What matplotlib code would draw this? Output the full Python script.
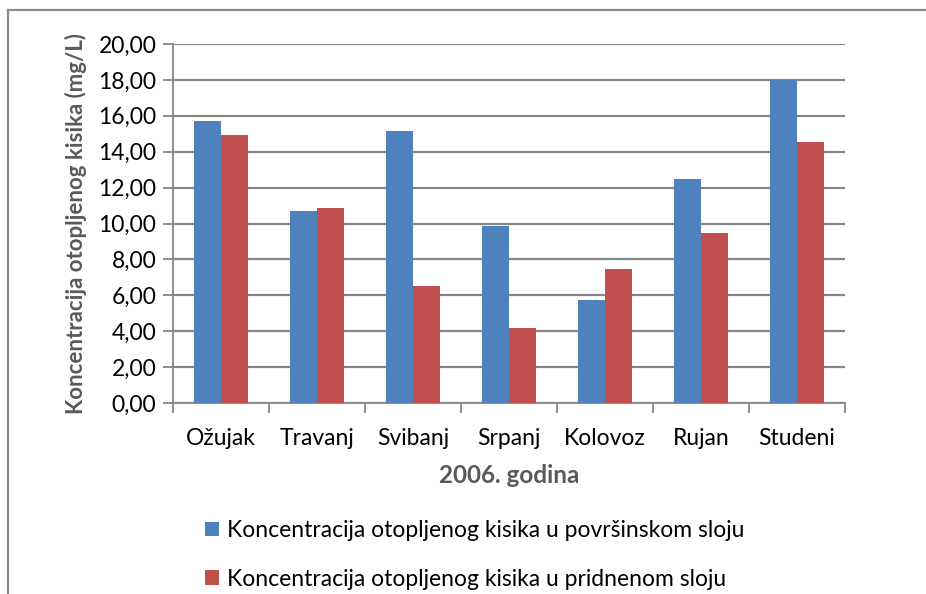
import matplotlib
matplotlib.use("Agg")
import matplotlib.pyplot as plt
import numpy as np
from matplotlib.lines import Line2D

# data
months = ["Ožujak", "Travanj", "Svibanj", "Srpanj", "Kolovoz", "Rujan", "Studeni"]
surface = [15.72, 10.68, 15.13, 9.86, 5.72, 12.47, 17.98]
bottom = [14.93, 10.86, 6.52, 4.17, 7.48, 9.46, 14.52]
yticks = [0, 2, 4, 6, 8, 10, 12, 14, 16, 18, 20]
legend_labels = ["Koncentracija otopljenog kisika u površinskom sloju",
                 "Koncentracija otopljenog kisika u pridnenom sloju"]

plt.rcParams['font.family'] = ['Lato', 'DejaVu Sans']

W, H = 926, 594
fig = plt.figure(figsize=(W / 100, H / 100), dpi=100)
ax = fig.add_axes([173 / W, 1 - 403 / H, (845 - 173) / W, (403 - 44) / H])

grid_col = "#868686"
blue = "#4f81bd"
red = "#c0504d"
bw = 0.28
fs = 16.5

x = np.arange(len(months))
ax.bar(x - bw / 2, surface, bw, color=blue, label=legend_labels[0], zorder=3)
ax.bar(x + bw / 2, bottom, bw, color=red, label=legend_labels[1], zorder=3)

ax.set_xlim(-0.5, len(months) - 0.5)
ax.set_ylim(0, 20)
ax.set_yticks(yticks)
ax.set_yticklabels([f"{v:.2f}".replace(".", ",") for v in yticks], fontsize=fs)
ax.yaxis.grid(True, color=grid_col, linewidth=1.6, zorder=0)
ax.set_axisbelow(True)

# category labels between boundary ticks
ax.set_xticks(np.arange(len(months) + 1) - 0.5)
ax.set_xticklabels([])
ax.set_xticks(x, minor=True)
ax.set_xticklabels(months, minor=True, fontsize=fs)
ax.tick_params(axis="x", which="minor", length=0, pad=18)
ax.tick_params(axis="x", which="major", length=7, width=1.3, color=grid_col)
ax.tick_params(axis="y", length=7, width=1.3, color=grid_col, pad=5)

for s in ["top", "right"]:
    ax.spines[s].set_visible(False)
for s in ["left", "bottom"]:
    ax.spines[s].set_color(grid_col)
    ax.spines[s].set_linewidth(1.3)

ax.set_xlabel("2006. godina", fontsize=17.5, fontweight="bold", color="#595959", labelpad=11)
ax.set_ylabel("Koncentracija otopljenog kisika (mg/L)", fontsize=16,
              fontweight="bold", color="#595959", labelpad=8)

leg = fig.legend(loc="upper left", bbox_to_anchor=(196 / W, 1 - 511 / H),
                 frameon=False, fontsize=fs, handlelength=0.6, handleheight=0.6,
                 handletextpad=0.35, labelspacing=1.2, borderaxespad=0)

# outer chart frame (only top and left edges visible)
fig.add_artist(Line2D([8 / W, 1], [1 - 10 / H] * 2, color="#8c8c8c", linewidth=1.6))
fig.add_artist(Line2D([8 / W] * 2, [0, 1 - 10 / H], color="#8c8c8c", linewidth=1.6))

fig.savefig("out.png", dpi=100)
